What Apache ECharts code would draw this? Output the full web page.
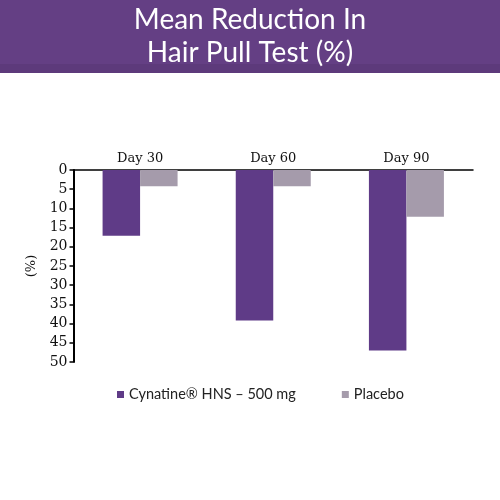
<!DOCTYPE html>
<html>
<head>
<meta charset="utf-8">
<script src="https://cdn.jsdelivr.net/npm/echarts@6/dist/echarts.min.js"></script>
<style>html,body{margin:0;padding:0;background:#fff}#c{width:500px;height:500px}</style>
</head>
<body>
<div id="c"></div>
<script>
var categories = ['Day 30', 'Day 60', 'Day 90'];
var cynatine = [17.1, 39.2, 47.0];
var placebo = [4.2, 4.2, 12.2];
var seriesNames = ['Cynatine\u00AE HNS \u2013 500 mg', 'Placebo'];
var titleLines = ['Mean Reduction In', 'Hair Pull Test (%)'];

var chart = echarts.init(document.getElementById('c'));
chart.setOption({
  backgroundColor: '#ffffff',
  animation: false,
  graphic: [
    { type: 'rect', shape: { x: 0, y: 0, width: 500, height: 73 }, style: { fill: '#643f84' }, z: -1 },
    { type: 'rect', shape: { x: 0, y: 64, width: 500, height: 9 }, style: { fill: '#5d3a7b' }, z: -1 },
    { type: 'text', x: 250, y: 20, style: { text: titleLines[0], fill: '#ffffff', fontSize: 28, fontFamily: 'Lato', align: 'center', verticalAlign: 'middle' } },
    { type: 'text', x: 250, y: 53, style: { text: titleLines[1], fill: '#ffffff', fontSize: 28, fontFamily: 'Lato', align: 'center', verticalAlign: 'middle' } }
  ],
  legend: {
    data: seriesNames,
    left: 112,
    top: 382,
    icon: 'rect',
    itemWidth: 7,
    itemHeight: 7,
    itemGap: 46,
    textStyle: { fontSize: 14.5, color: '#222', fontFamily: 'Lato' }
  },
  grid: { left: 73.5, right: 27, top: 170, bottom: 138, containLabel: false },
  xAxis: {
    type: 'category',
    data: categories,
    position: 'top',
    axisLine: { onZero: false, lineStyle: { color: '#000', width: 1.5 } },
    axisTick: { show: false },
    axisLabel: { margin: 5, fontSize: 13, color: '#111', fontFamily: 'DejaVu Serif' }
  },
  yAxis: {
    type: 'value',
    inverse: true,
    min: 0,
    max: 50,
    interval: 5,
    name: '(%)',
    nameLocation: 'middle',
    nameRotate: 90,
    nameGap: 35,
    nameTextStyle: { fontSize: 13, color: '#111', fontFamily: 'DejaVu Serif' },
    axisLine: { show: true, lineStyle: { color: '#000', width: 2 } },
    axisTick: { show: true, length: 4, lineStyle: { color: '#000', width: 1.5 } },
    splitLine: { show: false },
    axisLabel: { margin: 6, fontSize: 14, color: '#111', fontFamily: 'DejaVu Serif' }
  },
  series: [
    { name: seriesNames[0], type: 'bar', data: cynatine, barWidth: 37.5, barGap: '0%', itemStyle: { color: '#5f3b87' } },
    { name: seriesNames[1], type: 'bar', data: placebo, barWidth: 37.5, barGap: '0%', itemStyle: { color: '#a59bab' } }
  ]
});
</script>
</body>
</html>
